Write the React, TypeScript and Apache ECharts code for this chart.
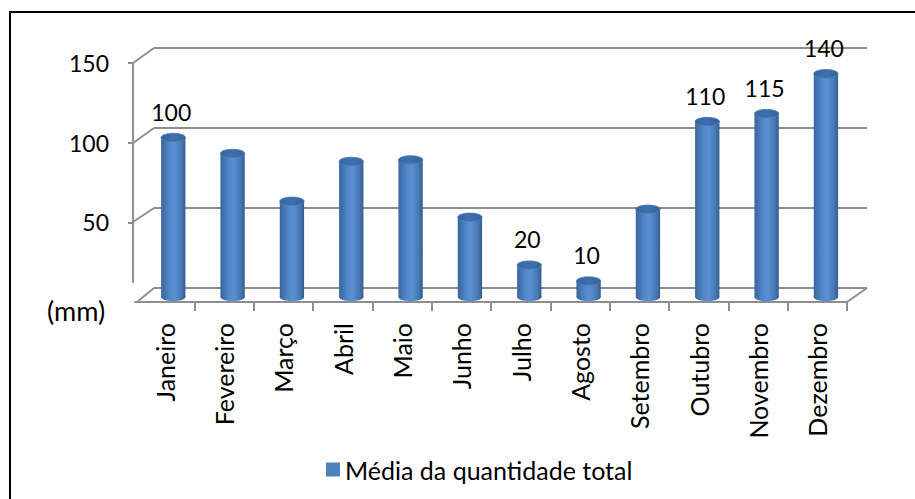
import React, { useEffect, useRef } from "react";
import * as echarts from "echarts";

const months = ["Janeiro", "Fevereiro", "Março", "Abril", "Maio", "Junho", "Julho", "Agosto", "Setembro", "Outubro", "Novembro", "Dezembro"];
const values = [100, 90, 60, 85, 86, 50, 20, 10, 55, 110, 115, 140];
const showValueLabel = [true, false, false, false, false, false, true, true, false, true, true, true];
const yTicks = [50, 100, 150];
const seriesName = "Média da quantidade total";
const unitLabel = "(mm)";

const FONT = "Lato, 'Open Sans', sans-serif";
const GRAY = "#8E8E8E";

export default function App() {
  const ref = useRef<HTMLDivElement>(null);
  useEffect(() => {
    if (!ref.current) return;
    const chart = echarts.init(ref.current, null, { renderer: "svg" });
    const bodyGrad = new echarts.graphic.LinearGradient(0, 0, 1, 0, [
      { offset: 0, color: "#3A659C" },
      { offset: 0.35, color: "#5088CC" },
      { offset: 0.55, color: "#5A90D2" },
      { offset: 0.85, color: "#4676B2" },
      { offset: 1, color: "#335C90" },
    ]);
    const topGrad = new echarts.graphic.LinearGradient(0, 0, 1, 0, [
      { offset: 0, color: "#36649E" },
      { offset: 0.5, color: "#3F70AE" },
      { offset: 1, color: "#36629A" },
    ]);
    const option: any = {
      animation: false,
      backgroundColor: "#fff",
      textStyle: { fontFamily: FONT },
      legend: {
        data: [{ name: seriesName, icon: "rect" }],
        left: 321,
        top: 452,
        itemWidth: 14,
        itemHeight: 14,
        itemGap: 0,
        textStyle: { fontSize: 25, color: "#000", fontFamily: FONT, padding: [0, 0, 0, 0] },
      },
      grid: [
        { left: 154, top: 48, width: 713, height: 240 },
        { left: 135, top: 63, width: 712, height: 239 },
        { left: 143.6, top: 57.75, width: 712, height: 239.25 },
        { left: 133, top: 63, width: 700, height: 219 },
      ],
      xAxis: [
        { type: "category", gridIndex: 0, data: months, show: false },
        {
          type: "category",
          gridIndex: 1,
          data: months,
          axisLine: { show: true, lineStyle: { color: GRAY, width: 2 } },
          axisTick: {
            show: true,
            length: 9,
            interval: (index: number) => index !== 0,
            lineStyle: { color: GRAY, width: 2 },
          },
          axisLabel: { rotate: 90, interval: 0, fontSize: 25, color: "#000", margin: 21, fontFamily: FONT },
        },
        { type: "category", gridIndex: 2, data: months, show: false },
        { type: "category", gridIndex: 3, data: months, show: false },
      ],
      yAxis: [
        {
          type: "value",
          gridIndex: 0,
          min: 0,
          max: 150,
          interval: 50,
          axisLine: { show: false },
          axisTick: { show: false },
          axisLabel: { show: false },
          splitLine: { show: true, showMinLine: true, showMaxLine: true, lineStyle: { color: GRAY, width: 2 } },
        },
        { type: "value", gridIndex: 1, min: 0, max: 150, show: false },
        { type: "value", gridIndex: 2, min: 0, max: 150, show: false },
        {
          type: "value",
          gridIndex: 3,
          min: 12.5,
          max: 150,
          axisLine: { show: true, lineStyle: { color: GRAY, width: 2 } },
          axisTick: { show: true, length: 5, customValues: yTicks, lineStyle: { color: GRAY, width: 2 } },
          axisLabel: { customValues: yTicks, fontSize: 23, color: "#000", margin: 24, fontFamily: FONT },
          splitLine: { show: false },
        },
      ],
      graphic: [
        { type: "rect", shape: { x: 10, y: 12, width: 1000, height: 600 }, style: { fill: "none", stroke: "#000", lineWidth: 2 }, z: 0 },
        { type: "line", shape: { x1: 133, y1: 63, x2: 154, y2: 48 }, style: { stroke: GRAY, lineWidth: 2 } },
        { type: "line", shape: { x1: 133, y1: 143, x2: 154, y2: 128 }, style: { stroke: GRAY, lineWidth: 2 } },
        { type: "line", shape: { x1: 133, y1: 222, x2: 154, y2: 208 }, style: { stroke: GRAY, lineWidth: 2 } },
        { type: "line", shape: { x1: 154, y1: 288, x2: 137, y2: 302 }, style: { stroke: GRAY, lineWidth: 2 } },
        { type: "line", shape: { x1: 867, y1: 288, x2: 847, y2: 302 }, style: { stroke: GRAY, lineWidth: 2 } },
        {
          type: "text",
          left: 47,
          top: 297,
          style: { text: unitLabel, fontSize: 27, fill: "#000", fontFamily: FONT },
        },
      ],
      series: [
        {
          type: "custom",
          name: seriesName,
          xAxisIndex: 2,
          yAxisIndex: 2,
          itemStyle: { color: "#4F81BD" },
          data: values.map((v, i) => [i, v]),
          z: 5,
          renderItem: (params: any, api: any) => {
            const idx = api.value(0);
            const val = api.value(1);
            const top = api.coord([idx, val]);
            const bot = api.coord([idx, 0]);
            const w = api.size([1, 0])[0] * 0.41;
            const ry = 4.2;
            const children: any[] = [
              {
                type: "ellipse",
                shape: { cx: bot[0], cy: bot[1], rx: w / 2, ry },
                style: { fill: bodyGrad },
              },
              {
                type: "rect",
                shape: { x: top[0] - w / 2, y: top[1], width: w, height: bot[1] - top[1] },
                style: { fill: bodyGrad },
              },
              {
                type: "ellipse",
                shape: { cx: top[0], cy: top[1], rx: w / 2, ry },
                style: { fill: topGrad, stroke: "#4A7CBA", lineWidth: 0.8 },
              },
            ];
            if (showValueLabel[params.dataIndex]) {
              children.push({
                type: "text",
                style: {
                  text: String(val),
                  x: top[0] - 2,
                  y: top[1] - 26,
                  align: "center",
                  verticalAlign: "middle",
                  fontSize: 23,
                  fontFamily: FONT,
                  fill: "#000",
                },
              });
            }
            return { type: "group", children };
          },
        },
      ],
    };
    chart.setOption(option);
    return () => chart.dispose();
  }, []);
  return <div ref={ref} style={{ position: "fixed", left: 0, top: 0, width: 915, height: 499 }} />;
}
